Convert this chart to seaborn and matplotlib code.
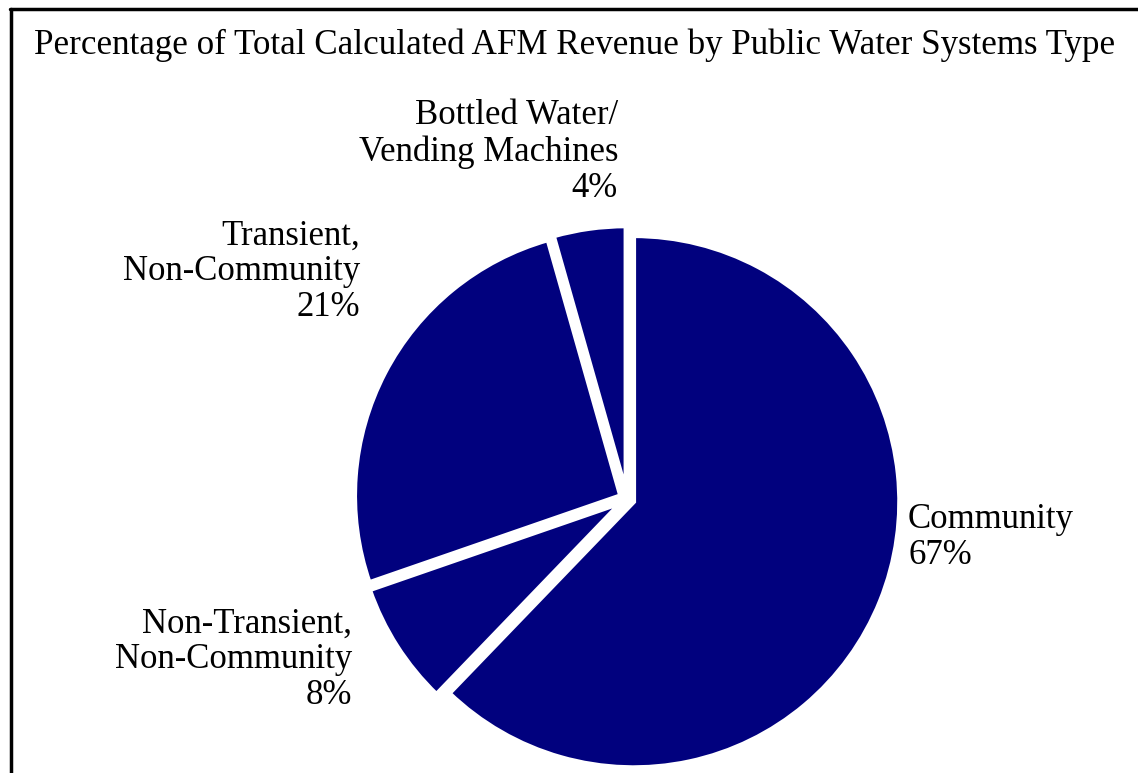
import matplotlib
matplotlib.use("Agg")
import matplotlib.pyplot as plt
import seaborn as sns
from matplotlib.lines import Line2D

# data (clockwise from 12 o'clock)
categories = ["Community", "Non-Transient,\nNon-Community", "Transient,\nNon-Community",
              "Bottled Water/\nVending Machines"]
label_pct = [67, 8, 21, 4]              # percentages printed on the labels
wedge_share = [62.2, 7.5, 25.9, 4.4]    # slice sizes as drawn (measured from slice angles)

title = "Percentage of Total Calculated AFM Revenue by Public Water Systems Type"

sns.set_theme(style="white")
plt.rcParams['font.family'] = ['Liberation Serif', 'DejaVu Serif']
plt.rcParams['text.color'] = 'black'

W, H = 1138, 773
fig = plt.figure(figsize=(W / 100, H / 100), dpi=100)
fig.patch.set_facecolor("white")

# pie centre / radius in pixels
cx, cy, R = 627, 499, 266
ax = fig.add_axes([0, 0, 1, 1])
navy = sns.color_palette(["#01017e"])[0]

wedges, texts = ax.pie(
    wedge_share,
    labels=[f"{c}\n{p}%" for c, p in zip(categories, label_pct)],
    colors=[navy] * len(wedge_share),
    startangle=90,
    counterclock=False,
    explode=[0.027] * len(wedge_share),
    wedgeprops=dict(edgecolor="white", linewidth=3.5),
    textprops=dict(fontsize=25, color="black", linespacing=1.12),
)
ax.set_aspect("auto")
ax.set_xlim(-cx / R, (W - cx) / R)
ax.set_ylim(-(H - cy) / R, cy / R)
ax.axis("off")

# label placement (pixel coords -> data coords)
label_pos = [(908, 537, "left"), (352, 660, "right"), (360, 272, "right"), (618, 152, "right")]
for t, (px, py, ha) in zip(texts, label_pos):
    t.set_position(((px - cx) / R, (cy - py) / R))
    t.set_ha(ha)
    t.set_va("center")

fig.text(0.5045, 1 - 45 / H, title, ha="center", va="center", fontsize=25.2, color="black")

# outer frame (top and left edges)
fig.add_artist(Line2D([10 / W, 1.0], [1 - 9 / H, 1 - 9 / H], color="black", lw=2.5,
                      transform=fig.transFigure))
fig.add_artist(Line2D([11 / W, 11 / W], [0, 1 - 9 / H], color="black", lw=2.5,
                      transform=fig.transFigure))

fig.savefig("out.png", dpi=100, facecolor="white")
